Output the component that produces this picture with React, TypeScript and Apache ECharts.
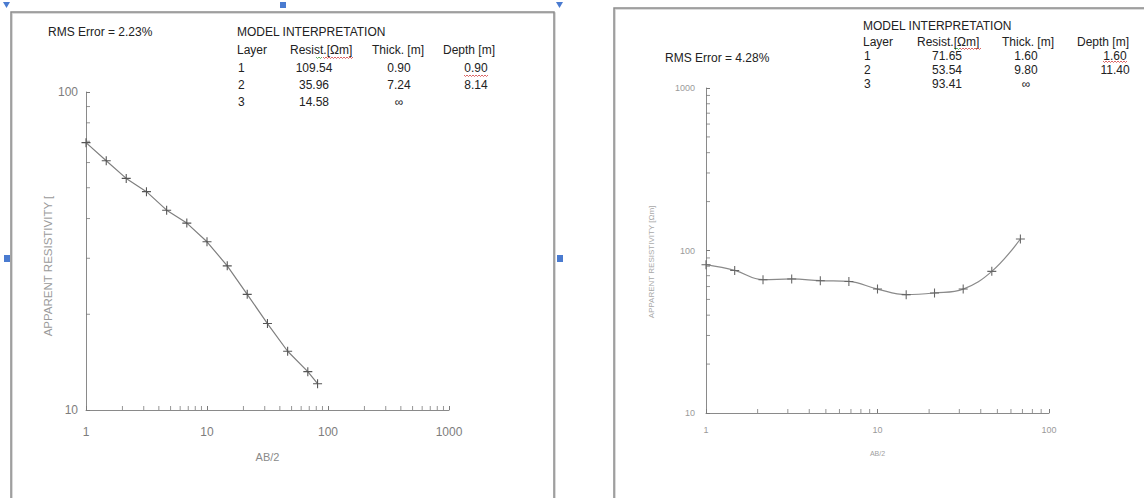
import React, { useEffect, useRef } from "react";
import * as echarts from "echarts";

// ---------- data ----------
const leftAB = [1, 1.47, 2.15, 3.16, 4.64, 6.81, 10, 14.7, 21.5, 31.6, 46.4, 68.1, 82];
const leftRho = [69.3, 60.8, 53.5, 48.6, 42.5, 38.7, 33.8, 28.4, 23.1, 18.7, 15.3, 13.2, 12.1];
const rightAB = [1, 1.47, 2.15, 3.16, 4.64, 6.81, 10, 14.7, 21.5, 31.6, 46.4, 68.1];
const rightRho = [81.8, 75.4, 66.1, 66.8, 65.2, 64.5, 57.9, 53.5, 54.8, 57.9, 74.4, 117.7];

const leftXMinor = [2, 3, 4, 5, 6, 7, 8, 9, 20, 30, 40, 50, 60, 70, 80, 90, 200, 300, 400, 500, 600, 700, 800, 900];
const leftYMinor = [20, 30, 40, 50, 60, 70, 80, 90];
const rightXMinor = [2, 3, 4, 5, 6, 7, 8, 9, 20, 30, 40, 50, 60, 70, 80, 90];
const rightYMinor = [20, 30, 40, 50, 60, 70, 80, 90, 200, 300, 400, 500, 600, 700, 800, 900];

const leftRms = "RMS Error = 2.23%";
const rightRms = "RMS Error = 4.28%";
const tableTitle = "MODEL INTERPRETATION";
const tableHeaders = ["Layer", "Resist.[Ωm]", "Thick. [m]", "Depth [m]"];
const leftLayers = ["1", "2", "3"];
const leftResist = ["109.54", "35.96", "14.58"];
const leftThick = ["0.90", "7.24", "∞"];
const leftDepth = ["0.90", "8.14", ""];
const rightLayers = ["1", "2", "3"];
const rightResist = ["71.65", "53.54", "93.41"];
const rightThick = ["1.60", "9.80", "∞"];
const rightDepth = ["1.60", "11.40", ""];

const yName = "APPARENT RESISTIVITY [";
const yNameRight = "APPARENT RESISTIVITY [Ωm]";
const xName = "AB/2";

// ---------- styles ----------
const FONT = "'Liberation Sans', Arial, sans-serif";
const PLUS = "path://M4.4,0h1.2v4.4h4.4v1.2h-4.4v4.4h-1.2v-4.4h-4.4v-1.2h4.4z";

function txt(text: string, x: number, y: number, size: number, align: string, fill = "#222", extra: any = {}) {
  return {
    type: "text",
    x,
    y,
    silent: true,
    ...extra,
    style: { text, fontFamily: FONT, fontSize: size, fill, align, verticalAlign: "middle" },
  };
}

function squiggle(x1: number, x2: number, y: number, color: string) {
  const pts: number[][] = [];
  let up = true;
  for (let x = x1; x <= x2; x += 1.5) {
    pts.push([x, up ? y : y + 1.5]);
    up = !up;
  }
  return { type: "polyline", silent: true, shape: { points: pts }, style: { stroke: color, lineWidth: 0.8, fill: null } };
}

function table(
  x0: number,
  yTitle: number,
  yHead: number,
  rowYs: number[],
  cols: number[],
  centers: number[],
  layers: string[],
  resist: string[],
  thick: string[],
  depth: string[]
) {
  const els: any[] = [];
  els.push(txt(tableTitle, x0, yTitle, 12, "left"));
  tableHeaders.forEach((h, i) => els.push(txt(h, cols[i], yHead, 12, "left")));
  rowYs.forEach((y, r) => {
    els.push(txt(layers[r], cols[0] + 1, y, 12, "left"));
    els.push(txt(resist[r], centers[0], y, 12, "center"));
    els.push(txt(thick[r], centers[1], y, 12, "center"));
    if (depth[r]) els.push(txt(depth[r], centers[2], y, 12, "center"));
  });
  return els;
}

function tickSeries(xi: number, data: number[][], horizontal: boolean) {
  return {
    type: "scatter",
    xAxisIndex: xi,
    yAxisIndex: xi,
    data,
    symbol: "rect",
    symbolSize: horizontal ? [1, 4] : [4, 1],
    symbolOffset: horizontal ? [0, -2] : [2, 0],
    itemStyle: { color: "#7a7a7a" },
    silent: true,
    z: 1,
  };
}

function logAxis(gi: number, min: number, max: number, size: number, color: string, margin: number) {
  return {
    type: "log",
    logBase: 10,
    gridIndex: gi,
    min,
    max,
    axisLine: { show: true, lineStyle: { color: "#8a8a8a", width: 1 } },
    axisTick: { show: true, inside: true, length: 4, lineStyle: { color: "#7a7a7a" } },
    splitLine: { show: false },
    minorTick: { show: false },
    axisLabel: {
      fontFamily: FONT,
      fontSize: size,
      color,
      margin,
      formatter: (v: number) => String(Math.round(v)),
    },
  };
}

export default function App() {
  const ref = useRef<HTMLDivElement>(null);
  useEffect(() => {
    const chart = echarts.init(ref.current!, null, { renderer: "svg" });
    const option: any = {
      animation: false,
      backgroundColor: "#ffffff",
      grid: [
        { left: 86, top: 92, width: 363, height: 318, containLabel: false },
        { left: 706, top: 88, width: 343, height: 325, containLabel: false },
      ],
      xAxis: [
        {
          ...logAxis(0, 1, 1000, 12, "#7d7d7d", 16),
          name: xName,
          nameLocation: "middle",
          nameGap: 41,
          nameTextStyle: { fontFamily: FONT, fontSize: 11, color: "#8a8a8a" },
        },
        {
          ...logAxis(1, 1, 100, 9, "#9a9a9a", 12),
          name: xName,
          nameLocation: "middle",
          nameGap: 37,
          nameTextStyle: { fontFamily: FONT, fontSize: 7, color: "#a0a0a0" },
        },
      ],
      yAxis: [logAxis(0, 10, 100, 12, "#7d7d7d", 8), logAxis(1, 10, 1000, 9, "#9a9a9a", 11)],
      series: [
        {
          type: "line",
          xAxisIndex: 0,
          yAxisIndex: 0,
          data: leftAB.map((x, i) => [x, leftRho[i]]),
          smooth: false,
          symbol: PLUS,
          symbolSize: 9,
          showAllSymbol: true,
          lineStyle: { color: "#7f7f7f", width: 1.2 },
          itemStyle: { color: "#555" },
          z: 3,
        },
        {
          type: "line",
          xAxisIndex: 1,
          yAxisIndex: 1,
          data: rightAB.map((x, i) => [x, rightRho[i]]),
          smooth: 0.4,
          symbol: PLUS,
          symbolSize: 9,
          showAllSymbol: true,
          lineStyle: { color: "#8a8a8a", width: 1.2 },
          itemStyle: { color: "#666" },
          z: 3,
        },
        tickSeries(0, leftXMinor.map((v) => [v, 10]), true),
        tickSeries(0, leftYMinor.map((v) => [1, v]), false),
        tickSeries(1, rightXMinor.map((v) => [v, 10]), true),
        tickSeries(1, rightYMinor.map((v) => [1, v]), false),
      ],
      graphic: [
        // panel frames
        { type: "rect", silent: true, shape: { x: 12, y: 13, width: 543, height: 520 }, style: { fill: "none", stroke: "#d0d0d0", lineWidth: 1.5 } },
        { type: "rect", silent: true, shape: { x: 11, y: 12, width: 543, height: 520 }, style: { fill: "none", stroke: "#8c8c8c", lineWidth: 1.5 } },
        { type: "rect", silent: true, shape: { x: 615, y: 9, width: 560, height: 520 }, style: { fill: "none", stroke: "#d0d0d0", lineWidth: 1.5 } },
        { type: "rect", silent: true, shape: { x: 614, y: 8, width: 560, height: 520 }, style: { fill: "none", stroke: "#8c8c8c", lineWidth: 1.5 } },
        // selection handles
        { type: "polygon", silent: true, shape: { points: [[3, 2], [10, 2], [6.5, 8]] }, style: { fill: "#4a7bd0" } },
        { type: "rect", silent: true, shape: { x: 280, y: 2, width: 6, height: 6 }, style: { fill: "#4a7bd0" } },
        { type: "polygon", silent: true, shape: { points: [[556, 2], [563, 2], [559.5, 8]] }, style: { fill: "#4a7bd0" } },
        { type: "rect", silent: true, shape: { x: 4, y: 255, width: 6, height: 7 }, style: { fill: "#4a7bd0" } },
        { type: "rect", silent: true, shape: { x: 557, y: 255, width: 6, height: 7 }, style: { fill: "#4a7bd0" } },
        // RMS texts
        txt(leftRms, 48, 32, 12, "left"),
        txt(rightRms, 665, 58, 12, "left"),
        // tables
        ...table(237, 32, 50, [68, 85, 102], [237, 290, 372, 443], [314, 399, 476], leftLayers, leftResist, leftThick, leftDepth),
        ...table(863, 26, 42, [56, 70, 84], [863, 917, 1002, 1077], [947, 1026, 1115], rightLayers, rightResist, rightThick, rightDepth),
        // spell-check marks
        squiggle(323, 353, 57, "#d04040"),
        squiggle(316, 323, 57, "#40a040"),
        squiggle(464, 489, 75, "#d04040"),
        squiggle(960, 982, 48, "#d04040"),
        squiggle(954, 960, 48, "#40a040"),
        squiggle(1103, 1127, 61, "#d04040"),
        // y-axis titles
        txt(yName, 48, 266, 11.5, "center", "#9a9a9a", { rotation: Math.PI / 2 }),
        txt(yNameRight, 651, 262, 8, "center", "#a8a8a8", { rotation: Math.PI / 2 }),
      ],
    };
    chart.setOption(option);
    return () => chart.dispose();
  }, []);
  return (
    <div
      ref={ref}
      style={{ position: "fixed", left: 0, top: 0, width: 1144, height: 498, background: "#fff" }}
    />
  );
}
